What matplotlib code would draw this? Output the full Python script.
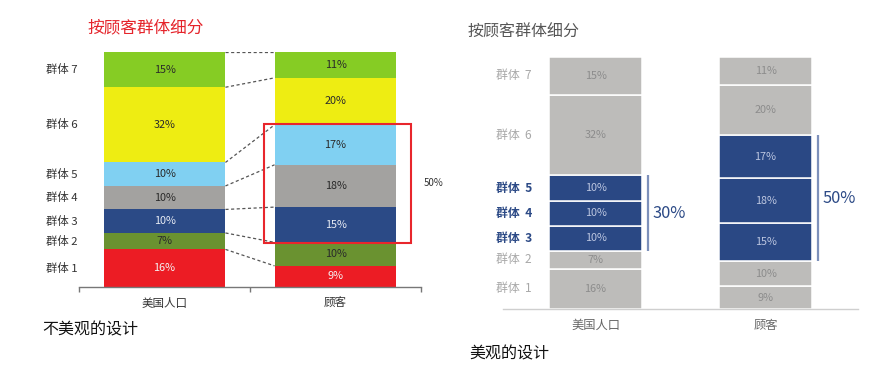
import matplotlib
matplotlib.use("Agg")
import matplotlib.pyplot as plt
import numpy as np
from matplotlib.patches import Rectangle

plt.rcParams['font.family'] = ['Noto Sans CJK SC', 'DejaVu Sans']

# ---- data ----
groups = ['群体 1', '群体 2', '群体 3', '群体 4', '群体 5', '群体 6', '群体 7']
groups_right = ['群体  1', '群体  2', '群体  3', '群体  4', '群体  5', '群体  6', '群体  7']
categories = ['美国人口', '顾客']
population = [16, 7, 10, 10, 10, 32, 15]
customers = [9, 10, 15, 18, 17, 20, 11]
highlight = [2, 3, 4]          # groups 3-5
title = '按顾客群体细分'
caption_bad = '不美观的设计'
caption_good = '美观的设计'

bad_colors = ['#ec1c24', '#6a9230', '#2b4a86', '#a3a2a0', '#80d0f2', '#eeed12', '#86cc24']
bad_text = ['#f4f4f4', '#2a2a2a', '#e8ecf4', '#2a2a2a', '#2a2a2a', '#2a2a2a', '#2a2a2a']

W, H = 877, 380
fig = plt.figure(figsize=(W / 100, H / 100), dpi=100)


def fx(px):
    return px / W


def fy(py):
    return 1 - py / H


series = [population, customers]

# ================= LEFT (bad design) =================
axL = fig.add_axes([fx(79), fy(287), fx(421 - 79), (287 - 52) / H])
wL = 0.713
for i, vals in enumerate(series):
    bottom = 0
    for g, v in enumerate(vals):
        axL.bar(i, v, bottom=bottom, width=wL, color=bad_colors[g], edgecolor='none')
        axL.text(i, bottom + v / 2, f'{v}%', ha='center', va='center',
                 fontsize=7.8, color=bad_text[g])
        bottom += v

cumL = np.cumsum(population)
cumR = np.cumsum(customers)
for a, b in zip(cumL, cumR):
    axL.plot([0 + wL / 2, 1 - wL / 2], [a, b], ls=(0, (2.5, 2)), color='#555555', lw=0.9)

cl = np.concatenate([[0], cumL])
for g in range(len(groups)):
    axL.text(-0.51, (cl[g] + cl[g + 1]) / 2, groups[g], ha='right', va='center',
             fontsize=8.2, color='#333333')

lo = cumR[highlight[0] - 1] - 0.3
hi = cumR[highlight[-1]] + 0.4
axL.add_patch(Rectangle((0.582, lo), 1.441 - 0.582, hi - lo, fill=False,
                        edgecolor='#e8262c', lw=1.5, clip_on=False, zorder=5))
axL.text(1.515, (lo + hi) / 2, f'{sum(customers[k] for k in highlight)}%',
         ha='left', va='center', fontsize=7, color='#333333')

axL.set_xlim(-0.5, 1.5)
axL.set_ylim(0, 100)
for s in ['top', 'right', 'left']:
    axL.spines[s].set_visible(False)
axL.spines['bottom'].set_color('#777777')
axL.spines['bottom'].set_linewidth(1.0)
axL.set_yticks([])
axL.set_xticks([0, 1])
axL.set_xticklabels(categories, fontsize=8.3, color='#333333')
axL.set_xticks([-0.5, 0.5, 1.5], minor=True)
axL.tick_params(axis='x', which='major', length=0, pad=7)
axL.tick_params(axis='x', which='minor', length=3.5, color='#777777', width=1.0)
axL.patch.set_alpha(0)

fig.text(fx(87), fy(28), title, ha='left', va='center', fontsize=12, color='#e5242b')
fig.text(fx(42), fy(330), caption_bad, ha='left', va='center', fontsize=11.5, color='#111111')

# ================= RIGHT (good design) =================
axR = fig.add_axes([fx(503), fy(309), fx(858 - 503), (309 - 57) / H])
wR = 0.547
gray = '#bdbcba'
blue = '#2a4884'
for i, vals in enumerate(series):
    bottom = 0
    for g, v in enumerate(vals):
        hl = g in highlight
        axR.bar(i, v, bottom=bottom, width=wR, color=blue if hl else gray,
                edgecolor='white', linewidth=1.1)
        axR.text(i, bottom + v / 2, f'{v}%', ha='center', va='center',
                 fontsize=7.8, color='#bcc6e0' if hl else '#8c8c8c')
        bottom += v

for g in range(len(groups)):
    hl = g in highlight
    axR.text(-0.373, (cl[g] + cl[g + 1]) / 2, groups_right[g], ha='right', va='center',
             fontsize=8.6, color='#2c4a86' if hl else '#a8a8a8',
             fontweight='bold' if hl else 'normal')

for i, cum, xb in [(0, np.concatenate([[0], cumL]), 0.309), (1, np.concatenate([[0], cumR]), 1.309)]:
    y0 = cum[highlight[0]]
    y1 = cum[highlight[-1] + 1]
    axR.plot([xb, xb], [y0, y1], color='#7d90ba', lw=1.6, clip_on=False,
             solid_capstyle='butt')
    tot = sum(series[i][k] for k in highlight)
    axR.text(xb + 0.025, (y0 + y1) / 2, f'{tot}%', ha='left', va='center',
             fontsize=11.8, color='#2c4a86')

axR.set_xlim(-0.544, 1.544)
axR.set_ylim(0, 100)
for s in ['top', 'right', 'left']:
    axR.spines[s].set_visible(False)
axR.spines['bottom'].set_color('#cfcfcf')
axR.spines['bottom'].set_linewidth(1.0)
axR.set_yticks([])
axR.set_xticks([0, 1])
axR.set_xticklabels(categories, fontsize=8.8, color='#666666')
axR.tick_params(axis='x', length=0, pad=7)
axR.patch.set_alpha(0)

fig.text(fx(468), fy(32), title, ha='left', va='center', fontsize=11.5, color='#555555')
fig.text(fx(469), fy(354), caption_good, ha='left', va='center', fontsize=11.5, color='#111111')

fig.savefig('out.png', dpi=100, facecolor='white')
